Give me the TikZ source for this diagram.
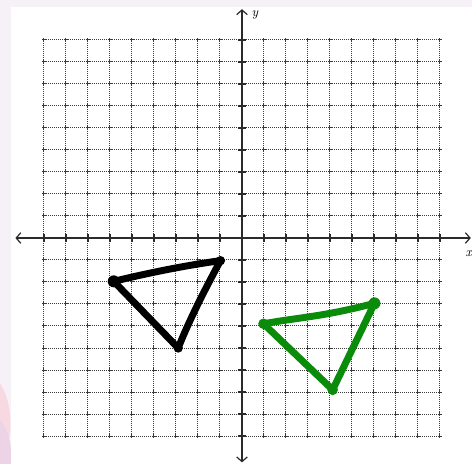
\documentclass[tikz,border=0pt]{standalone}
\usetikzlibrary{arrows.meta}
\definecolor{frame}{HTML}{F6F0F7}
\definecolor{pinkA}{HTML}{F9D9E1}
\definecolor{pinkB}{HTML}{EDD3E6}
\definecolor{gridc}{HTML}{3A3A3A}
\definecolor{axisc}{HTML}{2A2A2A}
\definecolor{greenline}{HTML}{0A8C0A}
\tikzset{
  gridline/.style={gridc, line width=0.75pt, dash pattern=on 0.75pt off 0.75pt},
  gridtick/.style={gridc, line width=0.75pt},
  axisline/.style={axisc, line width=1.4pt, -{Straight Barb[length=3.5pt,width=8pt,line width=0.9pt]}},
  axistick/.style={axisc, line width=1.2pt},
  tri/.style={line width=5.2pt, line join=round, line cap=round},
  vdot/.style={circle, inner sep=0pt, minimum size=8pt, fill},
  lab/.style={font=\itshape, inner sep=0pt}
}
\begin{document}
\begin{tikzpicture}[x=16.5pt,y=16.5pt]
% canvas: 472x464 px, origin at (242,238) px, 22 px per unit
\useasboundingbox (-11,-10.2727) rectangle (10.4545,10.8182);
\fill[frame] (-11,-10.2727) rectangle (10.4545,10.8182);
\begin{scope}
  \clip (-11,-10.2727) rectangle (-10.5,10.8182);
  \fill[pinkA] (-11.5,-6.2) .. controls (-10.6,-6.6) and (-10.4,-8.2) .. (-10.6,-9.2) -- (-11.5,-9.2) -- cycle;
  \fill[pinkB] (-11.5,-7.8) .. controls (-10.8,-8.3) and (-10.4,-9.0) .. (-10.5,-10.4) -- (-11.5,-10.4) -- cycle;
\end{scope}
\fill[white] (-10.5,-10.2727) rectangle (10.4545,10.5);
% grid
\foreach \i in {-9,...,9} {
  \draw[gridline] (\i,-9) -- (\i,9);
  \draw[gridline] (-9,\i) -- (9,\i);
}
\foreach \i in {-9,...,9} {
  \foreach \j in {-9,...,9} {
    \draw[gridtick] (\i-0.09,\j) -- (\i+0.09,\j);
    \draw[gridtick] (\i,\j-0.09) -- (\i,\j+0.09);
  }
}
% axes
\coordinate (xl) at (-10.3,0);
\coordinate (xr) at (10.4,0);
\coordinate (yb) at (0,-10.2);
\coordinate (yt) at (0,10.4);
\draw[axisline] (0,0) -- (xr);
\draw[axisline] (0,0) -- (xl);
\draw[axisline] (0,0) -- (yt);
\draw[axisline] (0,0) -- (yb);
\foreach \i in {-9,...,9} {
  \draw[axistick] (\i,-0.18) -- (\i,0.18);
  \draw[axistick] (-0.18,\i) -- (0.18,\i);
}
\node[lab] (ylab) at (0.58,10.12) {y};
\node[lab] (xlab) at (10.3,-0.72) {x};
% black triangle
\coordinate (A) at (-5.83,-1.97);
\coordinate (B) at (-0.98,-1.03);
\coordinate (C) at (-2.9,-5.0);
\draw[tri, black] (A) .. controls (-4.3,-1.6) and (-2.6,-1.25) .. (B)
  .. controls (-1.5,-2.0) and (-2.3,-3.5) .. (C) -- cycle;
\node[vdot, black, minimum size=9pt] (dA) at (A) {};
\node[vdot, black, minimum size=7pt] (dB) at (B) {};
\node[vdot, black, minimum size=7pt] (dC) at (C) {};
% green triangle
\coordinate (D) at (0.98,-3.9);
\coordinate (E) at (6.02,-2.97);
\coordinate (F) at (4.12,-6.9);
\draw[tri, greenline] (D) .. controls (2.6,-3.6) and (3.6,-3.6) .. (E) -- (F) -- cycle;
\node[vdot, greenline] (dD) at (D) {};
\node[vdot, greenline, minimum size=9pt] (dE) at (E) {};
\node[vdot, greenline] (dF) at (F) {};
\end{tikzpicture}
\end{document}
